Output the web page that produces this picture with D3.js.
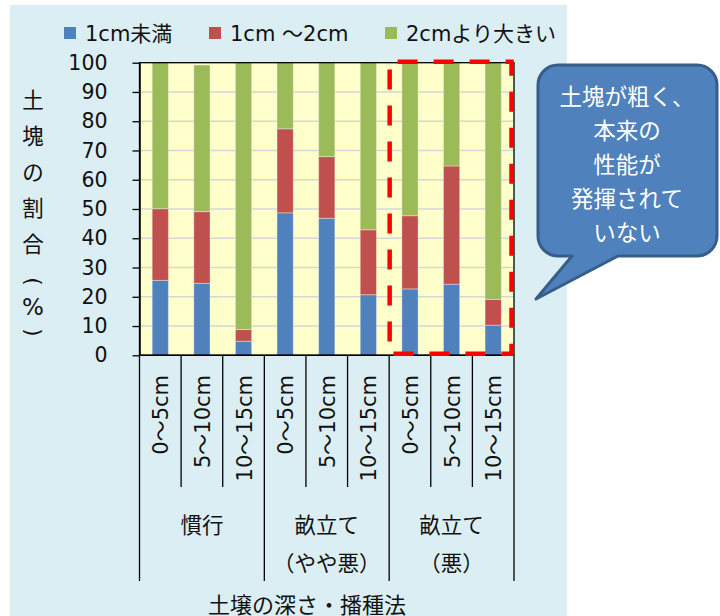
<!DOCTYPE html>
<html><head><meta charset="utf-8">
<script src="https://cdn.jsdelivr.net/npm/d3@7"></script>
<style>
html,body{margin:0;padding:0;background:#fff;}
svg{display:block;}
text{font-family:"DejaVu Sans","Noto Sans CJK JP",sans-serif;fill:#111;}
</style>
</head><body>
<svg id="chart" width="720" height="616"></svg>
<script>
// ---- data ----
const groups = ["慣行", "畝立て|（やや悪）", "畝立て|（悪）"];
const depths = ["0～5cm", "5～10cm", "10～15cm"];
const seriesNames = ["1cm未満", "1cm ～2cm", "2cmより大きい"];
const under1cm = [25.6, 24.6, 4.8, 48.7, 46.8, 20.7, 22.7, 24.3, 10.3];
const from1to2cm = [24.5, 24.5, 4.0, 28.7, 21.1, 22.2, 25.0, 40.4, 8.8];
const over2cm = [49.9, 50.1, 91.2, 22.6, 32.1, 57.1, 52.3, 35.3, 80.9];
const yTicks = [0, 10, 20, 30, 40, 50, 60, 70, 80, 90, 100];
const yTitle = "土塊の割合(%)";
const xTitle = "土壌の深さ・播種法";
const calloutLines = ["土塊が粗く、", "本来の", "性能が", "発揮されて", "いない"];
const colors = ["#4f81bd", "#c0504d", "#9bbb59"];

// ---- layout ----
const svg = d3.select("#chart");
const L = 139.5, R = 514, T = 62.7, B = 355.3;

svg.append("rect").attr("x", 10).attr("y", 5).attr("width", 557).attr("height", 611).attr("fill", "#daeef3");

const cats = [];
groups.forEach((g, gi) => depths.forEach((d, di) => cats.push({g: gi, d: d, key: gi + "-" + di})));
cats.forEach((c, i) => { c.v = [under1cm[i], from1to2cm[i], over2cm[i]]; });

const x = d3.scaleBand().domain(cats.map(c => c.key)).range([L, R]).padding(0);
const y = d3.scaleLinear().domain([0, 100]).range([B, T]);
const barW = x.bandwidth() * 0.39;

// plot background
svg.append("rect").attr("x", L).attr("y", T).attr("width", R - L).attr("height", B - T).attr("fill", "#ffffcc");

// gridlines
svg.append("g").selectAll("line").data(yTicks.filter(t => t > 0 && t < 100)).join("line")
  .attr("x1", L).attr("x2", R).attr("y1", d => y(d)).attr("y2", d => y(d))
  .attr("stroke", "#d6d6d6").attr("stroke-width", 1.6);

// stacked bars
const stackData = cats.map(c => ({key: c.key, s0: c.v[0], s1: c.v[1], s2: c.v[2]}));
const stack = d3.stack().keys(["s0", "s1", "s2"])(stackData);
svg.append("g").selectAll("g").data(stack).join("g").attr("fill", (d, i) => colors[i])
  .selectAll("rect").data(d => d).join("rect")
  .attr("x", d => x(d.data.key) + (x.bandwidth() - barW) / 2)
  .attr("width", barW)
  .attr("y", d => y(d[1]))
  .attr("height", d => y(d[0]) - y(d[1]))
  .attr("stroke", "rgba(255,255,255,0.35)").attr("stroke-width", 1);

// plot border
svg.append("rect").attr("x", L).attr("y", T).attr("width", R - L).attr("height", B - T)
  .attr("fill", "none").attr("stroke", "#000").attr("stroke-width", 1.3);

// y axis
const yAxis = svg.append("g").attr("transform", `translate(${L},0)`)
  .call(d3.axisLeft(y).tickValues(yTicks).tickSize(7).tickSizeOuter(0).tickPadding(25));
yAxis.select(".domain").attr("stroke", "#000").attr("stroke-width", 1.5);
yAxis.selectAll(".tick line").attr("stroke", "#000").attr("stroke-width", 1.3);
yAxis.selectAll(".tick text").attr("font-size", 20.5).attr("fill", "#111")
  .attr("font-family", "DejaVu Sans");

// x axis boundaries
const bounds = d3.range(cats.length + 1).map(i => ({i, xp: i < cats.length ? x(cats[i].key) : R}));
svg.append("g").selectAll("line").data(bounds).join("line")
  .attr("x1", d => d.xp).attr("x2", d => d.xp)
  .attr("y1", B).attr("y2", d => d.i % 3 === 0 ? 581 : 487)
  .attr("stroke", "#000").attr("stroke-width", 1.3);
svg.append("line").attr("x1", L).attr("x2", R).attr("y1", B).attr("y2", B).attr("stroke", "#000").attr("stroke-width", 1.5);

// category labels (rotated)
svg.append("g").selectAll("text").data(cats).join("text")
  .attr("transform", d => `translate(${x(d.key) + x.bandwidth() / 2 + 1},375) rotate(-90)`)
  .attr("text-anchor", "end").attr("dominant-baseline", "central")
  .attr("font-size", 21).text(d => d.d);

// group labels
groups.forEach((g, gi) => {
  const cx = (x(cats[gi * 3].key) + (gi < 2 ? x(cats[gi * 3 + 3].key) : R)) / 2;
  g.split("|").forEach((line, li) => {
    svg.append("text").attr("x", cx).attr("y", 525 + li * 38)
      .attr("text-anchor", "middle").attr("dominant-baseline", "central")
      .attr("font-size", 21.5).text(line);
  });
});

// x title
svg.append("text").attr("x", 307).attr("y", 605).attr("text-anchor", "middle")
  .attr("dominant-baseline", "central").attr("font-size", 22).text(xTitle);

// y title (vertical)
let yy = 100;
Array.from(yTitle).forEach((ch, i) => {
  const paren = ch === "(" || ch === ")";
  const t = svg.append("text").attr("text-anchor", "middle").attr("dominant-baseline", "central")
    .attr("font-size", ch === "%" ? 23 : 21.5).text(ch);
  if (paren) t.attr("transform", `translate(33,${yy}) rotate(90)`);
  else t.attr("x", 33).attr("y", yy);
  yy += (i < 4) ? 36 : 25.5;
  if (i === 4) yy += 12;
});

// legend
const legX = [64, 209, 385];
const lg = svg.append("g").selectAll("g").data(seriesNames).join("g")
  .attr("transform", (d, i) => `translate(${legX[i]},27)`);
lg.append("rect").attr("width", 12).attr("height", 12).attr("fill", (d, i) => colors[i]);
lg.append("text").attr("x", 21).attr("y", 14).attr("font-size", 21).text(d => d);

// red dashed highlight around third group
const hx0 = x(cats[6].key) + 0.5, hx1 = R - 2.5;
svg.append("rect").attr("x", hx0).attr("y", y(100) - 1).attr("width", hx1 - hx0).attr("height", y(0) - y(100) - 0.5)
  .attr("fill", "none").attr("stroke", "#ff0000").attr("stroke-width", 4.5)
  .attr("stroke-dasharray", "20,16").attr("stroke-dashoffset", 28);

// callout
const bx0 = 538, bx1 = 717, by0 = 65, by1 = 256, r = 20;
const p = d3.path();
p.moveTo(bx0 + r, by0);
p.lineTo(bx1 - r, by0); p.arcTo(bx1, by0, bx1, by0 + r, r);
p.lineTo(bx1, by1 - r); p.arcTo(bx1, by1, bx1 - r, by1, r);
p.lineTo(618, by1); p.lineTo(536, 299); p.lineTo(572, by1);
p.lineTo(bx0 + r, by1); p.arcTo(bx0, by1, bx0, by1 - r, r);
p.lineTo(bx0, by0 + r); p.arcTo(bx0, by0, bx0 + r, by0, r);
p.closePath();
svg.append("path").attr("d", p.toString()).attr("fill", "#4f81bd").attr("stroke", "#385d8a")
  .attr("stroke-width", 3).attr("stroke-linejoin", "round");
svg.append("g").selectAll("text").data(calloutLines).join("text")
  .attr("x", 627).attr("y", (d, i) => 97 + i * 34)
  .attr("text-anchor", "middle").attr("dominant-baseline", "central")
  .attr("font-size", 22.5).style("fill", "#fff").text(d => d);
</script>
</body></html>
